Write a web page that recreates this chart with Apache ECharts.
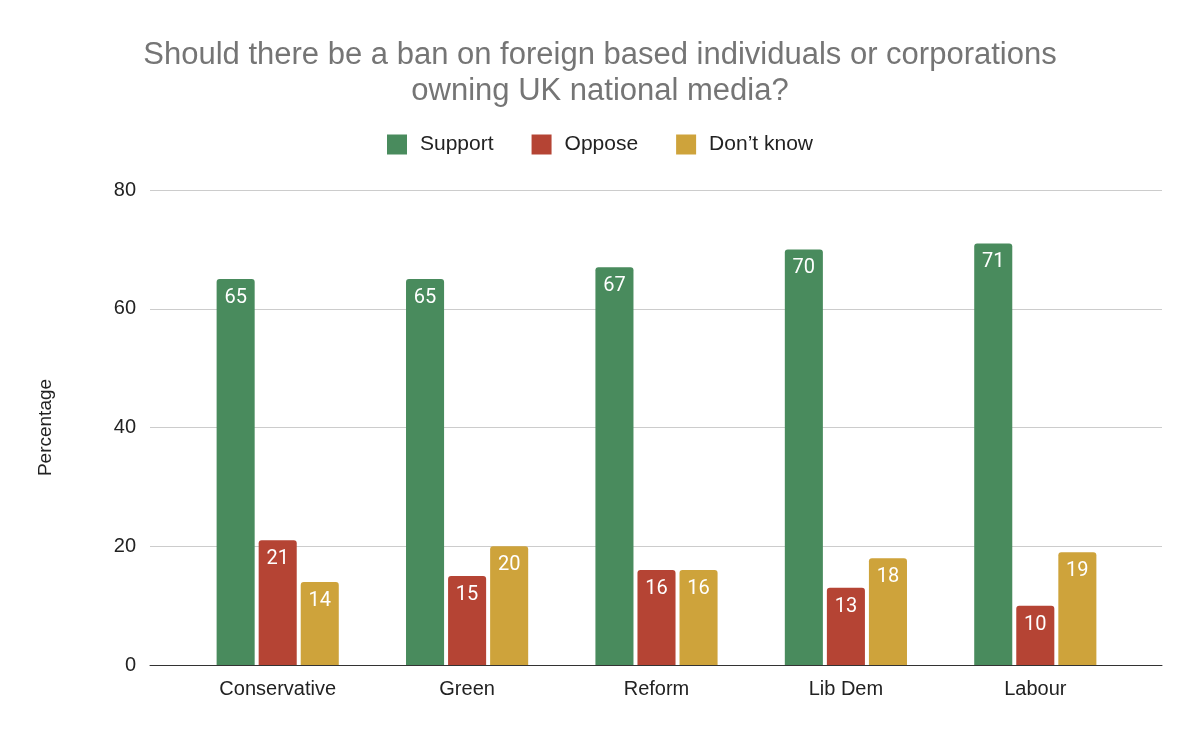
<!DOCTYPE html>
<html>
<head>
<meta charset="utf-8">
<script src="https://cdn.jsdelivr.net/npm/echarts@6/dist/echarts.min.js"></script>
<style>html,body{margin:0;padding:0;background:#fff}#chart{width:1200px;height:736px}</style>
</head>
<body>
<div id="chart"></div>
<script>
const categories = ['Conservative', 'Green', 'Reform', 'Lib Dem', 'Labour'];
const support = [65, 65, 67, 70, 71];
const oppose = [21, 15, 16, 13, 10];
const dontKnow = [14, 20, 16, 18, 19];

const chart = echarts.init(document.getElementById('chart'));
const font = '"Liberation Sans", Arial, sans-serif';
const label = { show: true, position: 'insideTop', color: '#fff', fontSize: 20, fontFamily: 'Roboto, sans-serif', distance: 9 };
const mk = (name, data, color) => ({
  name, type: 'bar', data, xAxisIndex: 0, yAxisIndex: 0,
  itemStyle: { color, borderRadius: [3, 3, 0, 0] }, label,
  barGap: '10.5%', barCategoryGap: '35.5%'
});

chart.setOption({
  animation: false,
  title: {
    text: 'Should there be a ban on foreign based individuals or corporations\nowning UK national media?',
    left: 'center', top: 32,
    textStyle: { color: '#757575', fontSize: 31, fontWeight: 'normal', fontFamily: font, lineHeight: 36 }
  },
  legend: {
    top: 129, itemWidth: 20, itemHeight: 20, itemGap: 38, icon: 'rect',
    textStyle: { fontSize: 21, color: '#222', fontFamily: font, padding: [0, 0, 0, 8] }
  },
  grid: [
    { left: 183, right: 70, top: 190, bottom: 71 },
    { left: 150, right: 38, top: 190, bottom: 71 }
  ],
  xAxis: [
    {
      type: 'category', data: categories, gridIndex: 0,
      axisTick: { show: false }, axisLine: { show: false },
      axisLabel: { fontSize: 20, color: '#222', fontFamily: font, margin: 14 }
    },
    {
      type: 'category', data: [''], gridIndex: 1,
      axisTick: { show: false }, axisLabel: { show: false },
      axisLine: { lineStyle: { color: '#333' } }
    }
  ],
  yAxis: [
    {
      type: 'value', min: 0, max: 80, interval: 20, gridIndex: 0,
      axisLabel: { show: false }, splitLine: { show: false }
    },
    {
      type: 'value', min: 0, max: 80, interval: 20, gridIndex: 1,
      name: 'Percentage', nameLocation: 'middle', nameGap: 95,
      nameTextStyle: { fontSize: 19, color: '#222', fontFamily: font },
      axisLabel: { fontSize: 20, color: '#222', fontFamily: font, margin: 14 },
      splitLine: { lineStyle: { color: '#ccc' } }
    }
  ],
  series: [
    mk('Support', support, '#498b5d'),
    mk('Oppose', oppose, '#b54434'),
    mk('Don\u2019t know', dontKnow, '#cea33b')
  ]
});
</script>
</body>
</html>
